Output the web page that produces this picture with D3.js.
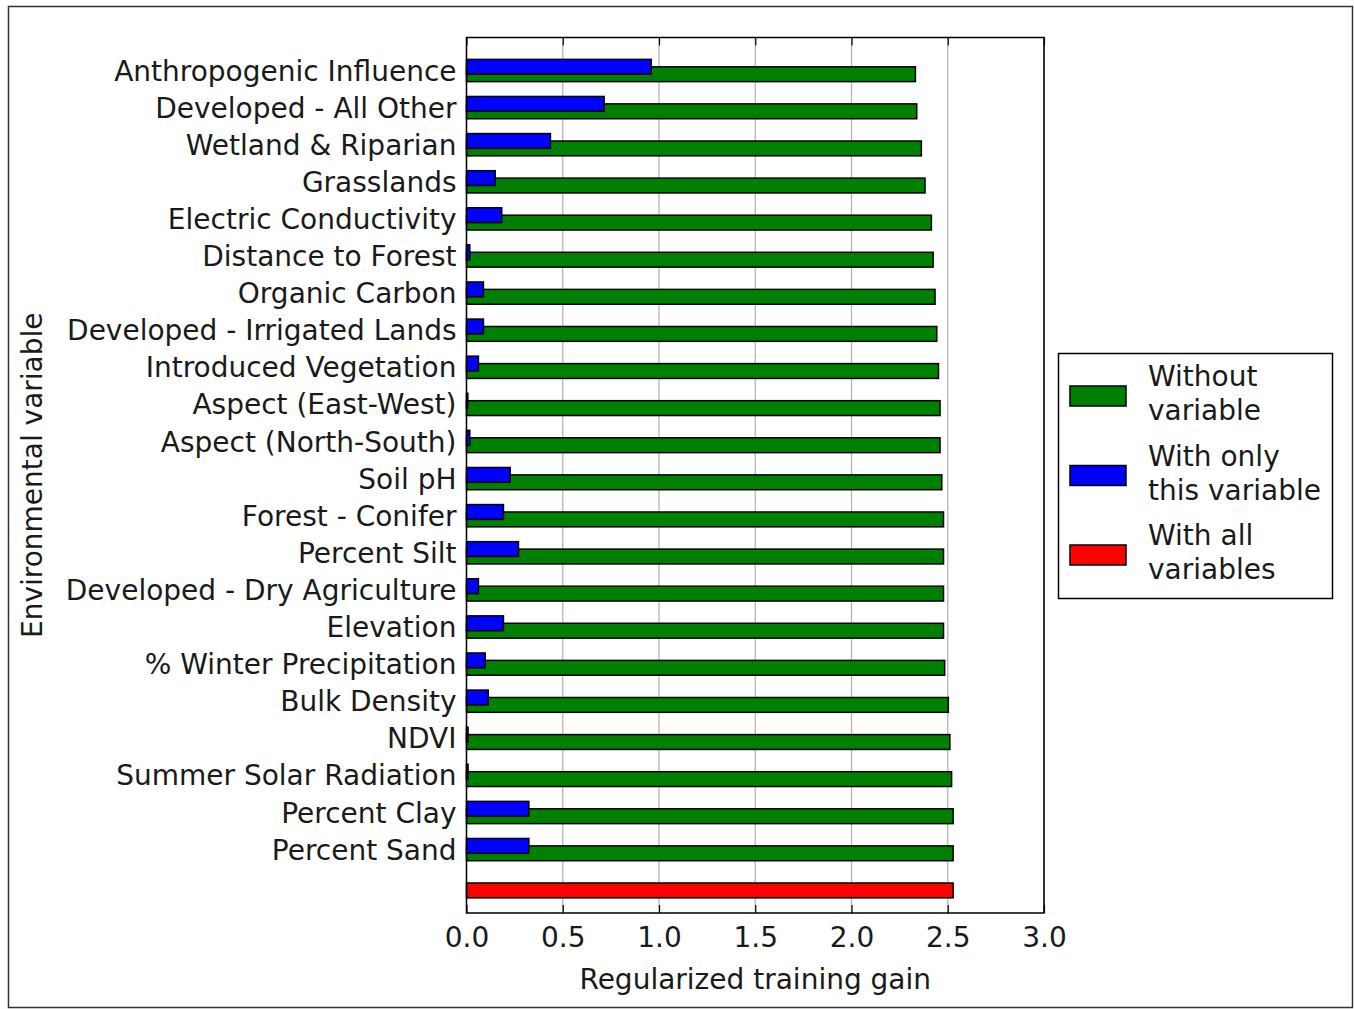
<!DOCTYPE html>
<html>
<head>
<meta charset="utf-8">
<script src="https://cdn.jsdelivr.net/npm/d3@7"></script>
<style>
  body { margin: 0; background: #fff; }
  text { font-family: "DejaVu Sans", sans-serif; fill: #1a1a1a; }
</style>
</head>
<body>
<div id="chart"></div>
<script>
// variables, top to bottom
const variables = ["Anthropogenic Influence", "Developed - All Other", "Wetland & Riparian",
    "Grasslands", "Electric Conductivity", "Distance to Forest", "Organic Carbon",
    "Developed - Irrigated Lands", "Introduced Vegetation", "Aspect (East-West)",
    "Aspect (North-South)", "Soil pH", "Forest - Conifer", "Percent Silt",
    "Developed - Dry Agriculture", "Elevation", "% Winter Precipitation", "Bulk Density",
    "NDVI", "Summer Solar Radiation", "Percent Clay", "Percent Sand"];

const withoutVar = [2.332, 2.339, 2.363, 2.382, 2.415, 2.424, 2.434, 2.443, 2.452, 2.460,
    2.460, 2.469, 2.478, 2.478, 2.478, 2.478, 2.484, 2.503, 2.511, 2.520, 2.528, 2.528];

const onlyVar = [0.960, 0.715, 0.436, 0.149, 0.183, 0.017, 0.088, 0.088, 0.062, 0.007,
    0.017, 0.227, 0.192, 0.270, 0.062, 0.192, 0.097, 0.113, 0.008, 0.008, 0.324, 0.324];

const allVars = 2.528;

const xTicks = [0.0, 0.5, 1.0, 1.5, 2.0, 2.5, 3.0];

const legendItems = [
    {lines: ["Without", "variable"], color: "#008000"},
    {lines: ["With only", "this variable"], color: "#0000ff"},
    {lines: ["With all", "variables"], color: "#ff0000"}
];

const W = 1354, H = 1009;
const fs = 28;

let svg = d3.select("#chart").append("svg")
    .attr("width", W)
    .attr("height", H);

// outer frame
svg.append("rect")
    .attr("x", 8.5).attr("y", 6.5)
    .attr("width", 1344).attr("height", 1001)
    .style("fill", "white")
    .style("stroke", "#333")
    .style("stroke-width", 1.5);

const pLeft = 466.5, pRight = 1044, pTop = 37.5, pBottom = 913;

let x = d3.scaleLinear().domain([0, 3]).range([pLeft, pRight]);
let y = d3.scaleLinear().domain([0, 22]).range([70.5, 886.7]);
const barH = y(0.4) - y(0);

// grid
svg.append("g")
    .selectAll("line")
    .data(xTicks)
    .enter()
    .append("line")
    .attr("x1", d => x(d)).attr("x2", d => x(d))
    .attr("y1", pTop).attr("y2", pBottom)
    .style("stroke", "#b0b0b0")
    .style("stroke-width", 1.2);

// green bars (without variable)
svg.append("g")
    .selectAll("rect")
    .data(withoutVar)
    .enter()
    .append("rect")
    .attr("x", x(0))
    .attr("y", (d, i) => y(i + 0.1) - barH / 2)
    .attr("width", d => x(d) - x(0))
    .attr("height", barH)
    .style("fill", "#008000")
    .style("stroke", "black")
    .style("stroke-width", 1.5);

// blue bars (only this variable)
svg.append("g")
    .selectAll("rect")
    .data(onlyVar)
    .enter()
    .append("rect")
    .attr("x", x(0))
    .attr("y", (d, i) => y(i - 0.1) - barH / 2)
    .attr("width", d => x(d) - x(0))
    .attr("height", barH)
    .style("fill", "#0000ff")
    .style("stroke", "black")
    .style("stroke-width", 1.5);

// red bar (all variables)
svg.append("rect")
    .attr("x", x(0))
    .attr("y", y(22 + 0.1) - barH / 2)
    .attr("width", x(allVars) - x(0))
    .attr("height", barH)
    .style("fill", "#ff0000")
    .style("stroke", "black")
    .style("stroke-width", 1.5);

// plot frame
svg.append("rect")
    .attr("x", pLeft).attr("y", pTop)
    .attr("width", pRight - pLeft).attr("height", pBottom - pTop)
    .style("fill", "none")
    .style("stroke", "black")
    .style("stroke-width", 1.5);

// x axis bottom and top, inward ticks
let xAxis = d3.axisBottom(x).tickValues(xTicks).tickFormat(d3.format(".1f"))
    .tickSizeInner(-8).tickSizeOuter(0).tickPadding(14);
let gx = svg.append("g").attr("transform", "translate(0," + pBottom + ")").call(xAxis);
gx.select(".domain").remove();
gx.selectAll("line").style("stroke", "black").style("stroke-width", 1.2);
gx.selectAll("text")
    .style("font-family", "DejaVu Sans")
    .style("font-size", fs + "px")
    .attr("fill", "#1a1a1a");

let xTop = d3.axisTop(x).tickValues(xTicks).tickFormat("").tickSizeInner(-8).tickSizeOuter(0);
let gxt = svg.append("g").attr("transform", "translate(0," + pTop + ")").call(xTop);
gxt.select(".domain").remove();
gxt.selectAll("line").style("stroke", "black").style("stroke-width", 1.2);

// y labels
svg.append("g")
    .selectAll("text")
    .data(variables)
    .enter()
    .append("text")
    .attr("x", pLeft - 10)
    .attr("y", (d, i) => y(i))
    .attr("dy", "0.36em")
    .attr("text-anchor", "end")
    .style("font-size", fs + "px")
    .text(d => d);

// axis titles
svg.append("text")
    .attr("x", (pLeft + pRight) / 2)
    .attr("y", 979)
    .attr("dy", "0.36em")
    .attr("text-anchor", "middle")
    .style("font-size", fs + "px")
    .text("Regularized training gain");

svg.append("text")
    .attr("transform", "translate(32," + (pTop + pBottom) / 2 + ") rotate(-90)")
    .attr("dy", "0.36em")
    .attr("text-anchor", "middle")
    .style("font-size", fs + "px")
    .text("Environmental variable");

// legend
let legend = svg.append("g").attr("transform", "translate(1058,353)");
legend.append("rect")
    .attr("x", 0.5).attr("y", 0.5)
    .attr("width", 274).attr("height", 245)
    .style("fill", "white")
    .style("stroke", "black")
    .style("stroke-width", 1.5);

legendItems.forEach((item, i) => {
    let cy = 43 + i * 79.5;
    legend.append("rect")
        .attr("x", 12).attr("y", cy - 10)
        .attr("width", 56).attr("height", 20)
        .style("fill", item.color)
        .style("stroke", "black")
        .style("stroke-width", 1.5);
    item.lines.forEach((ln, j) => {
        legend.append("text")
            .attr("x", 90)
            .attr("y", cy - 20 + j * 34)
            .attr("dy", "0.36em")
            .style("font-size", fs + "px")
            .text(ln);
    });
});
</script>
</body>
</html>
